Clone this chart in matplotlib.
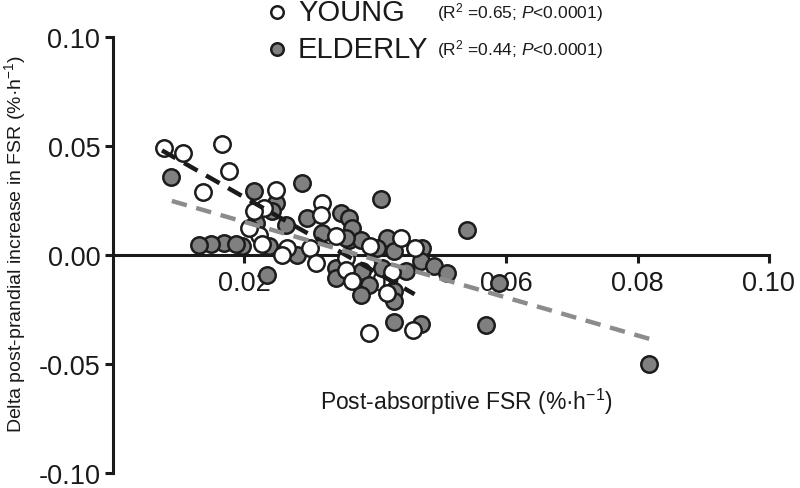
import matplotlib
matplotlib.use("Agg")
import matplotlib.pyplot as plt
import numpy as np

plt.rcParams['font.family'] = ['Liberation Sans', 'DejaVu Sans']
plt.rcParams['mathtext.fontset'] = 'custom'
plt.rcParams['mathtext.rm'] = 'Liberation Sans'
plt.rcParams['mathtext.it'] = 'Liberation Sans:italic'

# ---- data ----
young_x = [0.0078, 0.0107, 0.0166, 0.0177, 0.0137, 0.0249, 0.0231, 0.0319, 0.0318,
           0.0223, 0.0340, 0.0266, 0.0300, 0.0258, 0.0310, 0.0356, 0.0356, 0.0365,
           0.0440, 0.0460, 0.0418, 0.0390, 0.0458, 0.0215, 0.0208, 0.0228, 0.0392,
           0.0425]
young_y = [0.0490, 0.0470, 0.0510, 0.0385, 0.0290, 0.0300, 0.0216, 0.0239, 0.0183,
           0.0092, 0.0087, 0.0032, 0.0032, 0.0000, -0.0037, -0.0014, -0.0069, -0.0120,
           0.0078, 0.0032, -0.0174, -0.0358, -0.0344, 0.0200, 0.0125, 0.0050, 0.0040,
           -0.0080]

elderly_x = [0.0089, 0.0289, 0.0409, 0.0540, 0.0589, 0.0569, 0.0818, 0.0215, 0.0249,
             0.0296, 0.0348, 0.0360, 0.0218, 0.0264, 0.0319, 0.0360, 0.0197, 0.0169,
             0.0188, 0.0238, 0.0281, 0.0340, 0.0340, 0.0365, 0.0235, 0.0365, 0.0379,
             0.0356, 0.0418, 0.0402, 0.0429, 0.0472, 0.0470, 0.0490, 0.0510, 0.0411,
             0.0447, 0.0380, 0.0391, 0.0429, 0.0379, 0.0429, 0.0470, 0.0429, 0.0242,
             0.0150, 0.0132]
elderly_y = [0.0358, 0.0330, 0.0257, 0.0115, -0.0128, -0.0320, -0.0500, 0.0294, 0.0239,
             0.0170, 0.0193, 0.0170, 0.0147, 0.0138, 0.0101, 0.0069, 0.0041, 0.0055,
             0.0050, 0.0041, 0.0000, -0.0060, -0.0105, -0.0105, -0.0092, 0.0124, 0.0069,
             0.0078, 0.0078, 0.0032, 0.0018, 0.0032, -0.0028, -0.0050, -0.0083, -0.0060,
             -0.0073, -0.0073, -0.0138, -0.0165, -0.0183, -0.0307, -0.0317, -0.0211, 0.0200,
             0.0050, 0.0045]

young_fit_x = [0.0075, 0.0460]
young_fit_y = [0.0480, -0.0180]
elderly_fit_x = [0.0090, 0.0818]
elderly_fit_y = [0.0248, -0.0385]

x_ticks = [0.02, 0.04, 0.06, 0.08, 0.10]
x_tick_labels = ['0.02', '0.04', '0.06', '0.08', '0.10']
y_ticks = [-0.10, -0.05, 0.00, 0.05, 0.10]
y_tick_labels = ['-0.10', '-0.05', '0.00', '0.05', '0.10']

young_label = 'YOUNG'
elderly_label = 'ELDERLY'
young_stats = r'(R$^2$ =0.65; $\it{P}$<0.0001)'
elderly_stats = r'(R$^2$ =0.44; $\it{P}$<0.0001)'

# ---- figure ----
fig = plt.figure(figsize=(8.0, 4.89), dpi=100)
ax = fig.add_axes([0.141, 0.031, 0.820, 0.891])

edge = '#1c1c1c'
grey = '#808080'

ax.scatter(elderly_x, elderly_y, s=140, facecolor=grey, edgecolor=edge,
           linewidth=1.8, zorder=3, clip_on=False)
ax.scatter(young_x, young_y, s=140, facecolor='white', edgecolor=edge,
           linewidth=1.8, zorder=3, clip_on=False)

ax.plot(young_fit_x, young_fit_y, color='#1a1a1a', lw=3.2, dashes=(3.5, 2.2), zorder=4)
ax.plot(elderly_fit_x, elderly_fit_y, color='#8c8c8c', lw=3.2, dashes=(3.5, 2.2), zorder=4)

ax.set_xlim(0, 0.10)
ax.set_ylim(-0.10, 0.10)

ax.spines['top'].set_visible(False)
ax.spines['right'].set_visible(False)
ax.spines['bottom'].set_position(('data', 0))
ax.spines['left'].set_linewidth(2.2)
ax.spines['bottom'].set_linewidth(2.2)
ax.spines['left'].set_color('#1a1a1a')
ax.spines['bottom'].set_color('#1a1a1a')

ax.set_xticks(x_ticks)
ax.set_xticklabels(x_tick_labels)
ax.set_yticks(y_ticks)
ax.set_yticklabels(y_tick_labels)
ax.tick_params(axis='both', direction='out', length=6, width=2.2, color='#1a1a1a',
               labelsize=19.5, labelcolor='#1a1a1a')
ax.tick_params(axis='x', pad=5)
ax.tick_params(axis='y', pad=3)

ax.text(0.0539, -0.0672, 'Post-absorptive FSR (%·h$^{-1}$)', fontsize=16.5,
        ha='center', va='center', color='#1a1a1a')
fig.text(0.019, 0.50, 'Delta post-prandial increase in FSR (%·h$^{-1}$)', fontsize=14,
         rotation=90, ha='center', va='center', color='#1a1a1a')

# legend
for yy, fc, lab, st in [(1 - 13/489, 'white', young_label, young_stats),
                        (1 - 50/489, grey, elderly_label, elderly_stats)]:
    fig.lines.append(plt.Line2D([277/800], [yy], marker='o', markersize=9,
                                markerfacecolor=fc, markeredgecolor=edge,
                                markeredgewidth=1.8, transform=fig.transFigure))
    fig.text(298/800, yy, lab, fontsize=21, ha='left', va='center', color='#1a1a1a')
    fig.text(437/800, yy, st, fontsize=12.5, ha='left', va='center', color='#1a1a1a')

fig.savefig('out.png', dpi=100)
